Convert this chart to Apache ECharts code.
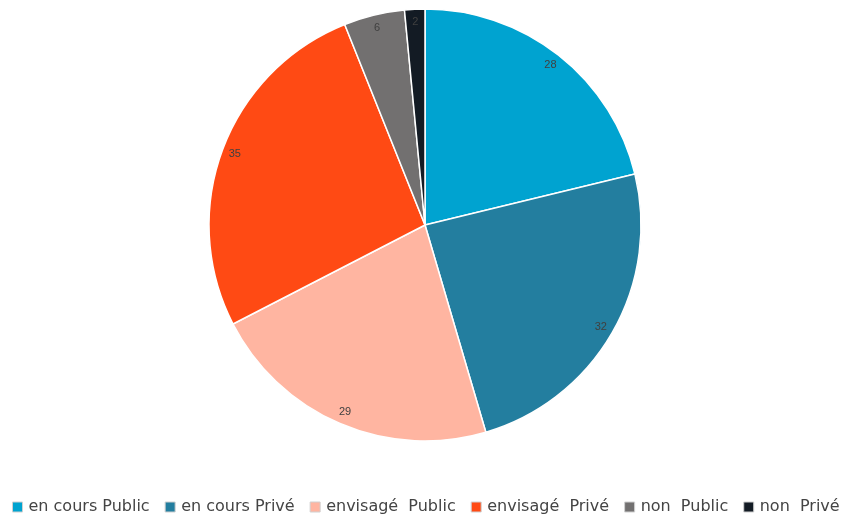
<!DOCTYPE html>
<html>
<head>
<meta charset="utf-8">
<script src="https://cdn.jsdelivr.net/npm/echarts@6/dist/echarts.min.js"></script>
<style>
  html, body { margin: 0; padding: 0; background: #fff; }
  #chart { width: 845px; height: 514px; }
</style>
</head>
<body>
<div id="chart"></div>
<script>
// Categories and counts, clockwise from 12 o'clock
const categories = ['en cours Public', 'en cours Privé', 'envisagé  Public', 'envisagé  Privé', 'non  Public', 'non  Privé'];
const counts = [28, 32, 29, 35, 6, 2];
const colors = ['#00A3D0', '#237E9F', '#FFB5A1', '#FF4A14', '#727070', '#131B24'];

const pieData = categories.map((name, i) => ({ name, value: counts[i] }));

const chart = echarts.init(document.getElementById('chart'));
chart.setOption({
  animation: false,
  color: colors,
  legend: {
    top: 499,
    left: 12,
    padding: 0,
    itemWidth: 10,
    itemHeight: 10,
    itemGap: 15,
    icon: 'rect',
    itemStyle: { borderColor: '#d0d0d0', borderWidth: 1 },
    textStyle: { fontFamily: 'DejaVu Sans', fontSize: 16, color: '#444', padding: [0, 0, 0, 1] },
    data: categories
  },
  series: [
    {
      name: 'main',
      type: 'pie',
      center: [425, 225],
      radius: [0, 216],
      startAngle: 90,
      clockwise: true,
      label: { show: false },
      labelLine: { show: false },
      itemStyle: { borderColor: '#fff', borderWidth: 1.5 },
      emphasis: { disabled: true },
      data: pieData
    },
    {
      // transparent ring that carries the value labels near the rim
      name: 'labels',
      type: 'pie',
      center: [425, 225],
      radius: [184, 216],
      startAngle: 90,
      clockwise: true,
      silent: true,
      legendHoverLink: false,
      itemStyle: { color: 'rgba(0,0,0,0)', borderWidth: 0 },
      label: {
        show: true,
        position: 'inside',
        formatter: '{c}',
        fontFamily: 'Liberation Sans',
        fontSize: 11,
        color: '#404040'
      },
      labelLine: { show: false },
      emphasis: { disabled: true },
      data: pieData
    }
  ]
});
</script>
</body>
</html>
